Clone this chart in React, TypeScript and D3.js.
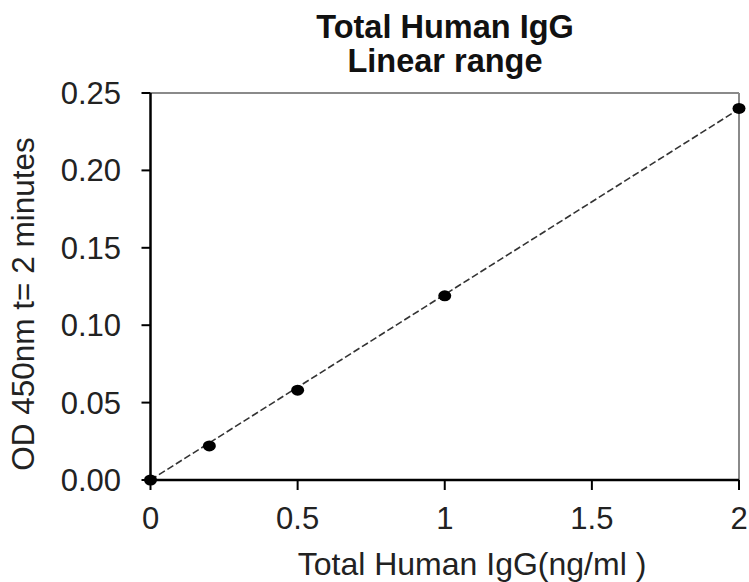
import React from "react";
import * as d3 from "d3";

const concentrations = [0, 0.2, 0.5, 1, 2];
const odValues = [0, 0.022, 0.058, 0.119, 0.24];
const xTicks = [0, 0.5, 1, 1.5, 2];
const xTickLabels = ["0", "0.5", "1", "1.5", "2"];
const yTicks = [0, 0.05, 0.1, 0.15, 0.2, 0.25];
const yTickLabels = ["0.00", "0.05", "0.10", "0.15", "0.20", "0.25"];
const titleLines = ["Total Human IgG", "Linear range"];
const xLabel = "Total Human IgG(ng/ml )";
const yLabel = "OD 450nm t= 2 minutes";

const W = 749;
const H = 582;
const FONT = "Liberation Sans, Arial, sans-serif";

export default function App() {
  const x = d3.scaleLinear().domain([0, 2]).range([150.5, 739]);
  const y = d3.scaleLinear().domain([0, 0.25]).range([480, 93]);

  // least-squares fit through the data for the dashed trend line
  const n = concentrations.length;
  const mx = d3.mean(concentrations) as number;
  const my = d3.mean(odValues) as number;
  let sxy = 0, sxx = 0;
  for (let i = 0; i < n; i++) {
    sxy += (concentrations[i] - mx) * (odValues[i] - my);
    sxx += (concentrations[i] - mx) ** 2;
  }
  const slope = sxy / sxx;
  const intercept = my - slope * mx;
  const trendX = [0, 2];
  const line = d3
    .line<number>()
    .x((d) => x(d))
    .y((d) => y(Math.max(0, intercept + slope * d)));

  return (
    <svg
      width={W}
      height={H}
      style={{ position: "absolute", left: 0, top: 0, background: "#fff" }}
      fontFamily={FONT}
    >
      <rect x={0} y={0} width={W} height={H} fill="#fff" />
      {titleLines.map((t, i) => (
        <text
          key={t}
          x={445}
          y={38 + i * 34}
          textAnchor="middle"
          fontWeight="bold"
          fontSize={32.5}
          fill="#111"
        >
          {t}
        </text>
      ))}
      {/* frame: top and right in gray */}
      <line x1={x(0)} x2={x(2)} y1={y(0.25)} y2={y(0.25)} stroke="#8a8a8a" strokeWidth={2} />
      <line x1={x(2)} x2={x(2)} y1={y(0.25)} y2={y(0)} stroke="#8a8a8a" strokeWidth={2} />
      {/* trend line */}
      <path d={line(trendX) || ""} fill="none" stroke="#333" strokeWidth={1.6} strokeDasharray="7,3" />
      {/* axes */}
      <line x1={x(0)} x2={x(0)} y1={y(0.25)} y2={y(0)} stroke="#000" strokeWidth={2.5} />
      <line x1={x(0)} x2={x(2)} y1={y(0)} y2={y(0)} stroke="#000" strokeWidth={2.5} />
      {yTicks.map((t, i) => (
        <g key={"y" + t}>
          <line x1={x(0) - 9} x2={x(0)} y1={y(t)} y2={y(t)} stroke="#000" strokeWidth={2} />
          <text
            x={121}
            y={y(t) + 11}
            textAnchor="end"
            fontSize={31}
            fill="#222"
          >
            {yTickLabels[i]}
          </text>
        </g>
      ))}
      {xTicks.map((t, i) => (
        <g key={"x" + t}>
          <line x1={x(t)} x2={x(t)} y1={y(0)} y2={y(0) + 10} stroke="#000" strokeWidth={2} />
          <text x={x(t)} y={529} textAnchor="middle" fontSize={31} fill="#222">
            {xTickLabels[i]}
          </text>
        </g>
      ))}
      <text x={472} y={575} textAnchor="middle" fontSize={32} fill="#222">
        {xLabel}
      </text>
      <text
        transform={`translate(34,304) rotate(-90)`}
        textAnchor="middle"
        fontSize={31.5}
        fill="#222"
      >
        {yLabel}
      </text>
      {concentrations.map((c, i) => (
        <ellipse key={"p" + i} cx={x(c)} cy={y(odValues[i])} rx={6.5} ry={5.5} fill="#000" />
      ))}
    </svg>
  );
}
